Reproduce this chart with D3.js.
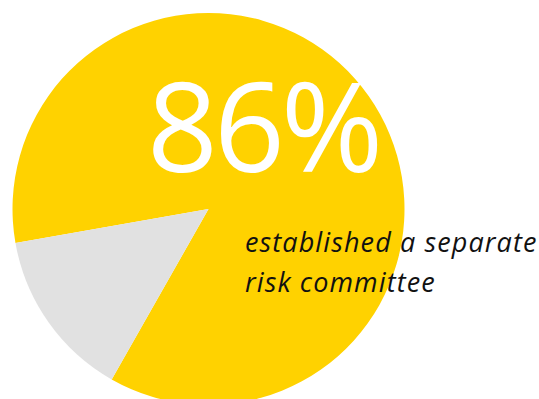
<!DOCTYPE html>
<html>
<head>
<meta charset="utf-8">
<script src="https://cdn.jsdelivr.net/npm/d3@7"></script>
<style>
  html, body { margin: 0; padding: 0; background: #fff; }
  svg { display: block; }
</style>
</head>
<body>
<svg id="chart" width="539" height="399"></svg>
<script>
// Share of boards with a separate risk committee
const categories = ["Established a separate risk committee", "Did not"];
const values = [86, 14];
const colors = ["#FFD200", "#E1E1E1"];
const headline = "86%";
const caption = ["established a separate", "risk committee"];

const svg = d3.select("#chart");
const cx = 208.5, cy = 209, radius = 196;

// Rotate so the small slice sits in the lower-left quadrant
const start = -100 * Math.PI / 180;
const pie = d3.pie()
  .sort(null)
  .value(d => d)
  .startAngle(start)
  .endAngle(start + 2 * Math.PI);

const arc = d3.arc().innerRadius(0).outerRadius(radius);

const g = svg.append("g").attr("transform", `translate(${cx},${cy})`);
g.selectAll("path")
  .data(pie(values))
  .join("path")
  .attr("d", arc)
  .attr("fill", (d, i) => colors[i]);

svg.append("text")
  .attr("x", 147)
  .attr("y", 172)
  .attr("font-family", "'Open Sans', sans-serif")
  .attr("font-weight", 400)
  .attr("font-size", 124)
  .attr("letter-spacing", -4)
  .attr("fill", "#fff")
  .text(headline);

svg.append("text")
  .attr("font-family", "'Open Sans', sans-serif")
  .attr("font-style", "italic")
  .attr("font-size", 27)
  .attr("letter-spacing", 1.1)
  .attr("fill", "#111")
  .selectAll("tspan")
  .data(caption)
  .join("tspan")
  .attr("x", 245)
  .attr("y", (d, i) => 252 + i * 40)
  .text(d => d);
</script>
</body>
</html>
